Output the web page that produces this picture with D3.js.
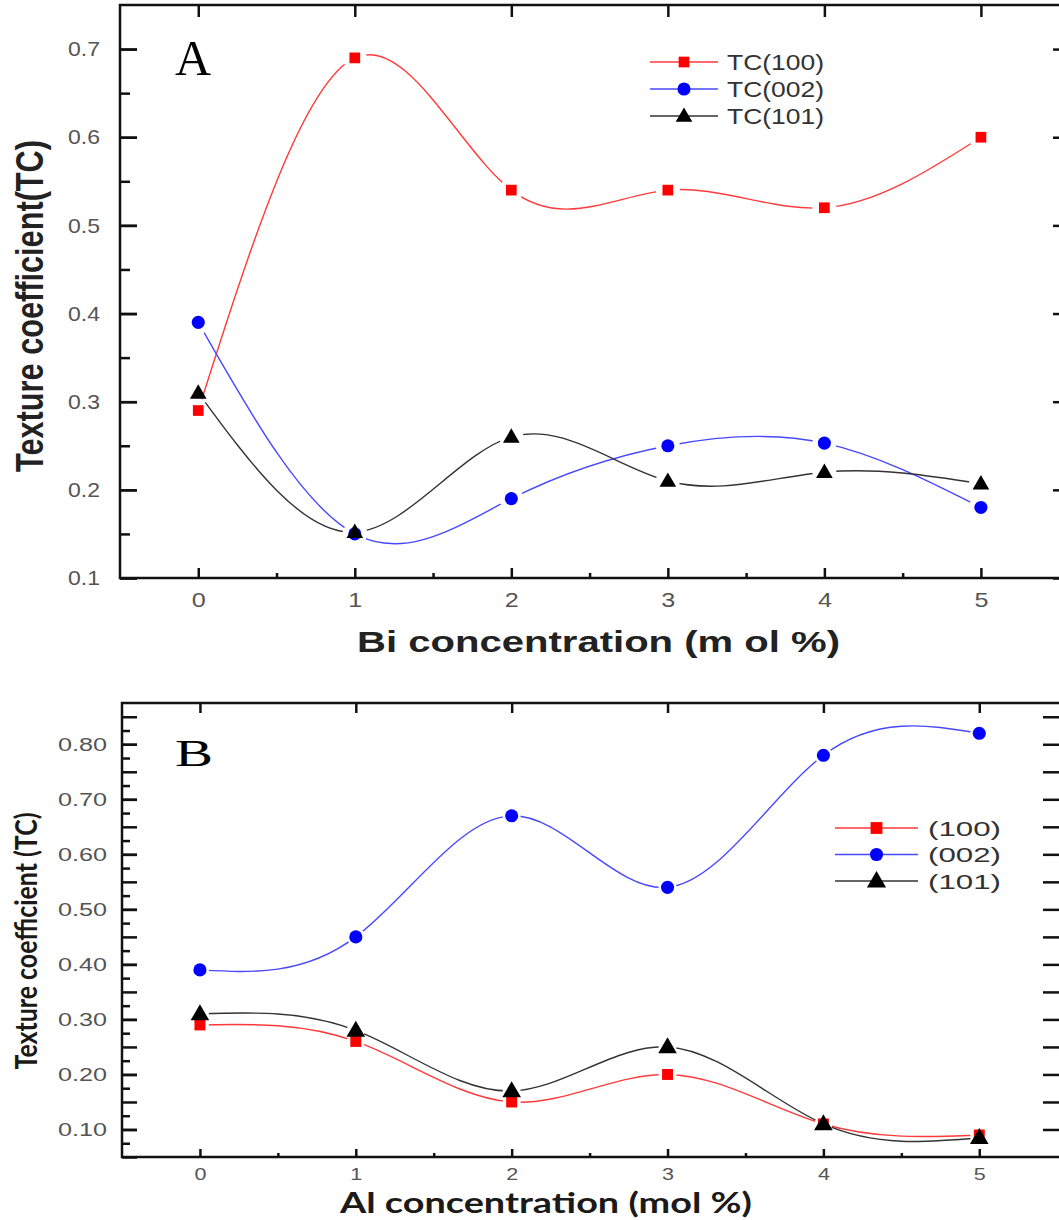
<!DOCTYPE html>
<meta charset="utf-8" />
<title>Texture coefficient vs dopant concentration</title>
<script src="https://cdn.jsdelivr.net/npm/d3@7"></script>

<style>
  body {
    margin: 0;
    padding: 0;
    background: #fff;
    font-family: "Liberation Sans", Arial, sans-serif;
  }

  .frame {
    fill: none;
    stroke: #111;
    stroke-width: 2.5;
  }

  .axis path {
    display: none;
  }

  .axis line {
    stroke: #111;
    stroke-width: 2.5;
  }

  .axis text {
    fill: #555;
    font-family: "Liberation Sans", Arial, sans-serif;
  }

  .line {
    fill: none;
    stroke-width: 1.4;
  }
</style>

<body>
  <div id="chart"></div>
</body>

<script>
  // x values (mol %)
  const concentration = [0, 1, 2, 3, 4, 5];

  // panel A : Bi concentration
  const biTC100 = [0.29, 0.69, 0.54, 0.54, 0.52, 0.60];
  const biTC002 = [0.39, 0.15, 0.19, 0.25, 0.253, 0.18];
  const biTC101 = [0.31, 0.152, 0.26, 0.21, 0.22, 0.207];
  const biNames = ["TC(100)", "TC(002)", "TC(101)"];
  const biYTicks = [0.1, 0.2, 0.3, 0.4, 0.5, 0.6, 0.7];

  // panel B : Al concentration
  const alTC100 = [0.29, 0.26, 0.15, 0.20, 0.11, 0.09];
  const alTC002 = [0.39, 0.45, 0.67, 0.54, 0.78, 0.82];
  const alTC101 = [0.31, 0.28, 0.17, 0.25, 0.11, 0.085];
  const alNames = ["(100)", "(002)", "(101)"];
  const alYTicks = [0.10, 0.20, 0.30, 0.40, 0.50, 0.60, 0.70, 0.80];

  const markerColors = ["#ff0000", "#0000ff", "#000000"];
  const lineColors = ["#ff3a3a", "#4848ff", "#333333"];
  const shapes = [d3.symbolSquare, d3.symbolCircle, d3.symbolTriangle];

  const W = 1059, H = 1220;

  const svg = d3.select("#chart")
    .append("svg")
    .attr("width", W)
    .attr("height", H);

  svg.append("rect").attr("width", W).attr("height", H).attr("fill", "#fff");
  const defs = svg.append("defs");

  function fit(sel, len) {
    sel.attr("textLength", len).attr("lengthAdjust", "spacingAndGlyphs");
  }

  function drawPanel(p) {
    var x = d3.scaleLinear().domain(p.xDomain).range(p.xRange);
    var y = d3.scaleLinear().domain(p.yDomain).range(p.yRange);
    var g = svg.append("g");

    var xMinor = concentration.slice(1).map(c => c - 0.5);

    // left axis (minor then major)
    g.append("g").attr("class", "axis")
      .attr("transform", "translate(" + p.xRange[0] + ",0)")
      .call(d3.axisLeft(y).tickValues(p.yMinor).tickSizeInner(-p.yMinorLen).tickFormat(""));
    g.append("g").attr("class", "axis")
      .attr("transform", "translate(" + p.xRange[0] + ",0)")
      .call(d3.axisLeft(y).tickValues(p.yMajor).tickSizeInner(-p.yMajorLen).tickPadding(p.yPad).tickFormat(""));
    var yl = g.append("g").attr("class", "axis")
      .attr("transform", "translate(" + p.xRange[0] + ",0)")
      .call(d3.axisLeft(y).tickValues(p.yLabels).tickSizeInner(-p.yMajorLen).tickPadding(p.yPad).tickFormat(d3.format(p.yFormat)));
    yl.selectAll("text").style("font-size", p.tickFont + "px").call(fit, p.yLabelLen);

    // right axis
    g.append("g").attr("class", "axis")
      .attr("transform", "translate(" + p.xRange[1] + ",0)")
      .call(d3.axisRight(y).tickValues(p.yRight).tickSizeInner(-p.yRightLen).tickFormat(""));

    // bottom axis
    g.append("g").attr("class", "axis")
      .attr("transform", "translate(0," + p.yRange[0] + ")")
      .call(d3.axisBottom(x).tickValues(xMinor).tickSizeInner(-p.xMinorLen).tickFormat(""));
    var xb = g.append("g").attr("class", "axis")
      .attr("transform", "translate(0," + p.yRange[0] + ")")
      .call(d3.axisBottom(x).tickValues(concentration).tickSizeInner(-p.xMajorLen).tickPadding(p.xPad).tickFormat(d3.format("d")));
    xb.selectAll("text").style("font-size", p.xTickFont + "px").call(fit, p.xLabelLen);

    // top axis
    g.append("g").attr("class", "axis")
      .attr("transform", "translate(0," + p.yRange[1] + ")")
      .call(d3.axisTop(x).tickValues(concentration).tickSizeInner(-p.xTopLen).tickFormat(""));

    // frame
    g.append("rect").attr("class", "frame")
      .attr("x", p.xRange[0]).attr("y", p.yRange[1])
      .attr("width", p.xRange[1] - p.xRange[0])
      .attr("height", p.yRange[0] - p.yRange[1]);

    var line = d3.line()
      .x(d => x(d[0]))
      .y(d => y(d[1]))
      .curve(d3.curveNatural);

    p.series.forEach(function (vals, i) {
      var pts = concentration.map((c, k) => [c, vals[k]]);
      var id = p.id + "gap" + i;

      // gap around the markers of this series only
      var m = defs.append("mask").attr("id", id).attr("maskUnits", "userSpaceOnUse")
        .attr("x", 0).attr("y", 0).attr("width", W).attr("height", H);
      m.append("rect").attr("width", W).attr("height", H).attr("fill", "#fff");
      m.selectAll("circle").data(pts).enter().append("circle")
        .attr("cx", d => x(d[0])).attr("cy", d => y(d[1]))
        .attr("r", p.gap).attr("fill", "#000");

      //Line
      g.append("path")
        .datum(pts)
        .attr("class", "line")
        .attr("stroke", lineColors[i])
        .attr("mask", "url(#" + id + ")")
        .attr("d", line);
    });

    //Markers
    p.series.forEach(function (vals, i) {
      var pts = concentration.map((c, k) => [c, vals[k]]);
      g.selectAll(".mk" + p.id + i)
        .data(pts)
        .enter()
        .append("path")
        .attr("transform", d => "translate(" + x(d[0]) + "," + (y(d[1]) + (i == 2 ? 1 : 0)) + ")")
        .attr("d", d3.symbol().type(shapes[i]).size(p.markerSize[i]))
        .attr("fill", markerColors[i]);
    });

    // legend
    var lg = g.append("g");
    p.names.forEach(function (name, i) {
      var ly = p.legend.y + i * p.legend.step;
      lg.append("line")
        .attr("x1", p.legend.x0).attr("x2", p.legend.x1)
        .attr("y1", ly).attr("y2", ly)
        .attr("stroke", lineColors[i]).attr("stroke-width", 1.6);
      lg.append("path")
        .attr("transform", "translate(" + ((p.legend.x0 + p.legend.x1) / 2) + "," + (ly + (i == 2 ? 1 : 0)) + ")")
        .attr("d", d3.symbol().type(shapes[i]).size(p.legendMarker[i]))
        .attr("fill", markerColors[i]);
      lg.append("text")
        .attr("x", p.legend.tx).attr("y", ly)
        .attr("dy", "0.36em")
        .attr("fill", "#333")
        .style("font-size", p.legend.font + "px")
        .text(name)
        .call(fit, p.legend.len);
    });

    return { x: x, y: y, g: g };
  }

  // ---------- panel A ----------
  drawPanel({
    id: "A",
    xDomain: [-0.5, 5.55], xRange: [120, 1067],
    yDomain: [0.1, 0.75], yRange: [578, 5],
    yMajor: biYTicks, yLabels: biYTicks, yMinor: biYTicks.map(v => v + 0.05).filter(v => v < 0.75),
    yRight: biYTicks,
    yMajorLen: 17, yMinorLen: 10, yRightLen: 14, yPad: 20, yFormat: ".1f",
    tickFont: 21, yLabelLen: 32,
    xMajorLen: 10, xMinorLen: 5, xTopLen: 12, xPad: 14, xTickFont: 21, xLabelLen: 14,
    series: [biTC100, biTC002, biTC101],
    names: biNames,
    gap: 12,
    markerSize: [115, 135, 120],
    legendMarker: [115, 135, 120],
    legend: { x0: 650, x1: 718, tx: 727, y: 62, step: 27, font: 22, len: 97 }
  });

  // ---------- panel B ----------
  const alMajor = d3.range(1, 18).map(k => +(k * 0.05).toFixed(3));
  drawPanel({
    id: "B",
    xDomain: [-0.5, 5.55], xRange: [122, 1065],
    yDomain: [0.05, 0.875], yRange: [1157, 703],
    yMajor: alMajor, yLabels: alYTicks, yMinor: alMajor.map(v => v + 0.025).filter(v => v < 0.875),
    yRight: alMajor.filter(v => v >= 0.1),
    yMajorLen: 15, yMinorLen: 8, yRightLen: 22, yPad: 15, yFormat: ".2f",
    tickFont: 18, yLabelLen: 49,
    xMajorLen: 8, xMinorLen: 4, xTopLen: 10, xPad: 11, xTickFont: 17, xLabelLen: 12,
    series: [alTC100, alTC002, alTC101],
    names: alNames,
    gap: 9,
    markerSize: [120, 135, 150],
    legendMarker: [140, 135, 160],
    legend: { x0: 835, x1: 918, tx: 928, y: 828, step: 26.5, font: 21, len: 73 }
  });

  // ---------- titles ----------
  svg.append("text")
    .attr("x", 175).attr("y", 75)
    .style("font-family", "'Liberation Serif', 'Times New Roman', serif")
    .style("font-size", "50px")
    .attr("fill", "#000")
    .text("A");

  svg.append("text")
    .attr("x", 175).attr("y", 766)
    .style("font-family", "'Liberation Serif', 'Times New Roman', serif")
    .style("font-size", "38px")
    .attr("fill", "#000")
    .text("B")
    .call(fit, 38);

  svg.append("text")
    .attr("x", 357).attr("y", 652)
    .style("font-size", "30px").style("font-weight", "bold")
    .attr("fill", "#222")
    .text("Bi concentration (m ol %)")
    .call(fit, 483);

  svg.append("text")
    .attr("transform", "translate(43,306) rotate(-90)")
    .attr("text-anchor", "middle")
    .style("font-size", "38px").style("font-weight", "bold")
    .attr("fill", "#222")
    .text("Texture coefficient(TC)")
    .call(fit, 332);

  svg.append("text")
    .attr("x", 340).attr("y", 1213)
    .style("font-family", "Lato, 'Open Sans', sans-serif")
    .style("font-size", "28px").style("font-weight", "bold")
    .attr("fill", "#1c1a18")
    .text("Al concentration (mol %)")
    .call(fit, 412);

  svg.append("text")
    .attr("transform", "translate(37,941) rotate(-90)")
    .attr("text-anchor", "middle")
    .style("font-family", "Lato, 'Open Sans', sans-serif")
    .style("font-size", "31px").style("font-weight", "bold")
    .attr("fill", "#1c1a18")
    .text("Texture coefficient (TC)")
    .call(fit, 257);
</script>
